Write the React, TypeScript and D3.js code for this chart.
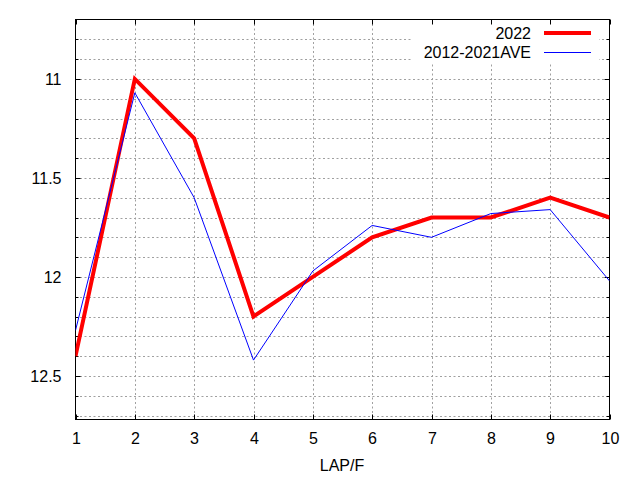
import React from "react";
import * as d3 from "d3";

const laps = [1, 2, 3, 4, 5, 6, 7, 8, 9, 10];
const series2022 = [12.4, 11.0, 11.3, 12.2, 12.0, 11.8, 11.7, 11.7, 11.6, 11.7];
const seriesAve = [12.27, 11.07, 11.6, 12.42, 11.97, 11.74, 11.8, 11.68, 11.66, 12.02];
const yMajorTicks = [11, 11.5, 12, 12.5];
const yMinorTicks = [10.8, 10.9, 11.1, 11.2, 11.3, 11.4, 11.6, 11.7, 11.8, 11.9, 12.1, 12.2, 12.3, 12.4, 12.6, 12.7];
const seriesNames = ["2022", "2012-2021AVE"];
const xLabel = "LAP/F";

const W = 640, H = 480;
const L = 75.5, R = 609.5, T = 19.5, B = 419.5;
const FONT = "'Liberation Sans', Arial, sans-serif";

export default function App() {
  const x = d3.scaleLinear().domain([1, 10]).range([L, R]);
  const y = d3.scaleLinear().domain([10.7, 12.72]).range([T, B]);
  const line = d3.line<number>().x((_, i) => x(laps[i])).y((d) => y(d));
  const allY = [...yMajorTicks, ...yMinorTicks];
  const grid = { stroke: "#a0a0a0", strokeWidth: 1, strokeDasharray: "2,2.5" };

  return (
    <div style={{ position: "fixed", left: 0, top: 0, width: W, height: H, background: "#fff" }}>
      <svg width={W} height={H} style={{ display: "block" }}>
        <rect width={W} height={H} fill="#fff" />
        {/* grid */}
        {allY.map((v) => (
          <line key={"gy" + v} x1={L} x2={R} y1={Math.round(y(v)) + 0.5} y2={Math.round(y(v)) + 0.5} {...grid} />
        ))}
        {laps.slice(1, -1).map((v) => (
          <line key={"gx" + v} x1={Math.round(x(v)) + 0.5} x2={Math.round(x(v)) + 0.5} y1={T} y2={B} {...grid} />
        ))}
        {/* legend background */}
        <rect x={413} y={20} width={186} height={43} fill="#fff" />
        {/* ticks */}
        {yMajorTicks.map((v) => {
          const yy = Math.round(y(v)) + 0.5;
          return (
            <g key={"ym" + v}>
              <line x1={L} x2={L + 5} y1={yy} y2={yy} stroke="#000" />
              <line x1={R} x2={R - 5} y1={yy} y2={yy} stroke="#000" />
              <text x={L - 14} y={yy} textAnchor="end" dominantBaseline="central" fontFamily={FONT} fontSize={16} fill="#000">
                {v}
              </text>
            </g>
          );
        })}
        {yMinorTicks.map((v) => {
          const yy = Math.round(y(v)) + 0.5;
          return (
            <g key={"yn" + v}>
              <line x1={L} x2={L + 3} y1={yy} y2={yy} stroke="#000" />
              <line x1={R} x2={R - 3} y1={yy} y2={yy} stroke="#000" />
            </g>
          );
        })}
        {laps.map((v) => {
          const xx = Math.round(x(v)) + 0.5;
          return (
            <g key={"xt" + v}>
              <line x1={xx} x2={xx} y1={B} y2={B - 5} stroke="#000" />
              <line x1={xx} x2={xx} y1={T} y2={T + 5} stroke="#000" />
              <text x={xx} y={438} textAnchor="middle" dominantBaseline="central" fontFamily={FONT} fontSize={16} fill="#000">
                {v}
              </text>
            </g>
          );
        })}
        {/* border */}
        <rect x={L} y={T} width={R - L} height={B - T} fill="none" stroke="#000" strokeWidth={1} />
        {/* series */}
        <defs>
          <clipPath id="plotclip">
            <rect x={L} y={T} width={R - L} height={B - T} />
          </clipPath>
        </defs>
        <g clipPath="url(#plotclip)">
          <path d={line(series2022) || ""} fill="none" stroke="#ff0000" strokeWidth={4} strokeLinejoin="miter" />
          <path d={line(seriesAve) || ""} fill="none" stroke="#0000ff" strokeWidth={1} />
        </g>
        {/* legend */}
        <text x={531} y={33} textAnchor="end" dominantBaseline="central" fontFamily={FONT} fontSize={16} fill="#000">
          {seriesNames[0]}
        </text>
        <line x1={544} x2={591} y1={33} y2={33} stroke="#ff0000" strokeWidth={4} />
        <text x={531} y={52} textAnchor="end" dominantBaseline="central" fontFamily={FONT} fontSize={16} fill="#000">
          {seriesNames[1]}
        </text>
        <line x1={544} x2={591} y1={52.5} y2={52.5} stroke="#0000ff" strokeWidth={1} />
        {/* axis label */}
        <text x={342} y={465} textAnchor="middle" dominantBaseline="central" fontFamily={FONT} fontSize={16} fill="#000">
          {xLabel}
        </text>
      </svg>
    </div>
  );
}
